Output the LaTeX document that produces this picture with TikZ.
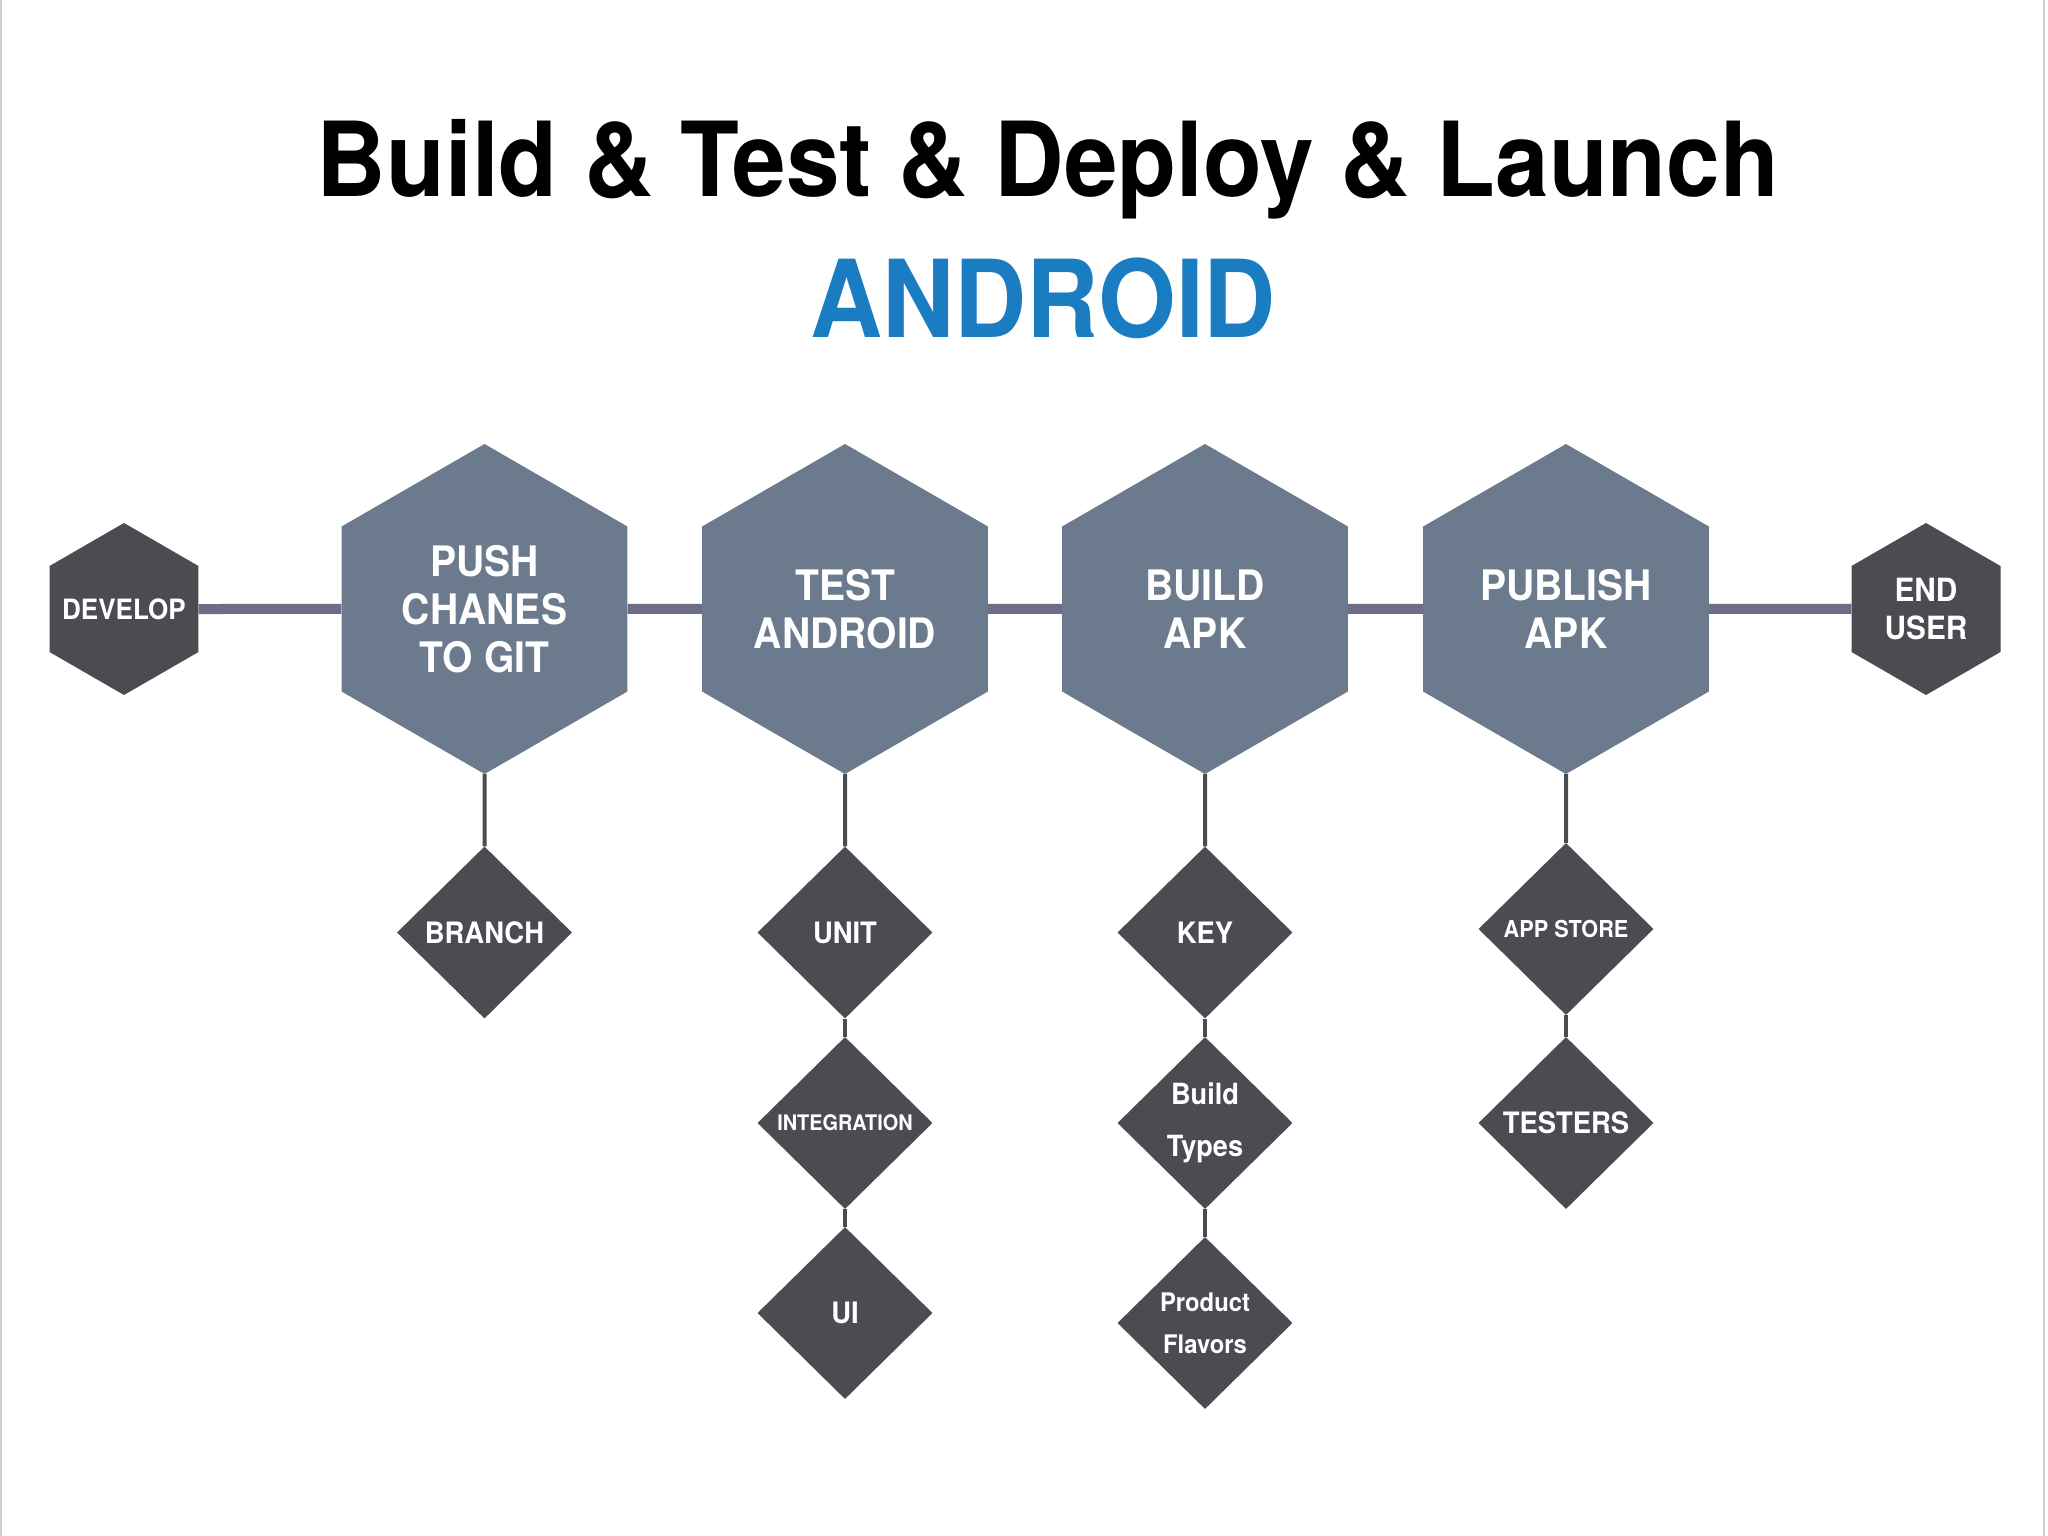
\documentclass[tikz,border=0pt]{standalone}
\usepackage{fontspec}
\setmainfont{TeX Gyre Heros}[FakeStretch=0.93]
\usetikzlibrary{shapes.geometric,backgrounds}
\definecolor{slate}{HTML}{6B7A8C}
\definecolor{darkgrey}{HTML}{4A4C52}
\definecolor{linepurple}{HTML}{6B6E86}
\definecolor{andblue}{HTML}{1A7CC1}
\definecolor{framegrey}{HTML}{CFCFCF}
\begin{document}
\begin{tikzpicture}[x=1pt,y=-1pt,
  hexbig/.style={regular polygon, regular polygon sides=6, shape border rotate=30,
    fill=slate, minimum size=330pt, inner sep=0pt, text=white, align=center,
    font=\bfseries\fontsize{42}{48}\selectfont},
  hexsmall/.style={regular polygon, regular polygon sides=6, shape border rotate=30,
    fill=darkgrey, minimum size=172pt, inner sep=0pt, text=white, align=center},
  dia/.style={diamond, fill=darkgrey, minimum width=175pt, minimum height=172pt,
    inner sep=0pt, text=white, align=center, font=\bfseries\fontsize{29.5}{34}\selectfont},
  mainline/.style={draw=linepurple, line width=10pt},
  subline/.style={draw=darkgrey, line width=4pt}]
\useasboundingbox (0,0) rectangle (2048,1536);

% titles
\node[anchor=base, inner sep=0pt, font=\bfseries\fontsize{103.5}{110}\selectfont] (title) at (1048,196) {Build \& Test \& Deploy \& Launch};
\node[anchor=base, inner sep=0pt, text=andblue, font=\bfseries\fontsize{107.5}{110}\selectfont] (android) at (1043,337) {ANDROID};

% main row
\node[hexsmall, font=\bfseries\fontsize{28}{34}\selectfont] (develop) at (124,609) {\makebox[0pt]{DEVELOP}};
\node[hexbig] (push) at (484.5,609) {PUSH\\CHANES\\TO GIT};
\node[hexbig] (test) at (845,609) {TEST\\ANDROID};
\node[hexbig] (build) at (1205,609) {BUILD\\APK};
\node[hexbig] (publish) at (1566,609) {PUBLISH\\APK};
\node[hexsmall, font=\bfseries\fontsize{32}{38}\selectfont] (enduser) at (1926,609) {END\\USER};

% sub items
\node[dia] (branch) at (484.5,932.5) {BRANCH};
\node[dia] (unit) at (845,932.5) {UNIT};
\node[dia, font=\bfseries\fontsize{21.4}{26}\selectfont] (integration) at (845,1123) {INTEGRATION};
\node[dia] (ui) at (845,1313) {UI};
\node[dia] (key) at (1205,932.5) {KEY};
\node[dia, font=\bfseries\fontsize{29.2}{52}\selectfont] (buildtypes) at (1205,1123) {Build\\Types};
\node[dia, font=\bfseries\fontsize{25.6}{42}\selectfont] (flavors) at (1205,1323) {Product\\Flavors};
\node[dia, font=\bfseries\fontsize{23.3}{28}\selectfont] (appstore) at (1566,929) {APP STORE};
\node[dia] (testers) at (1566,1123) {TESTERS};

\begin{scope}[on background layer]
  \fill[white] (0,0) rectangle (2048,1536);
  \draw[framegrey, line width=2pt] (1,0) -- (1,1536);
  \draw[framegrey, line width=2pt] (2044,0) -- (2044,1536);
  \draw[mainline] (develop) -- (push);
  \draw[mainline] (push) -- (test);
  \draw[mainline] (test) -- (build);
  \draw[mainline] (build) -- (publish);
  \draw[mainline] (publish) -- (enduser);
  \draw[subline] (push) -- (branch);
  \draw[subline] (test) -- (unit);
  \draw[subline] (unit) -- (integration);
  \draw[subline] (integration) -- (ui);
  \draw[subline] (build) -- (key);
  \draw[subline] (key) -- (buildtypes);
  \draw[subline] (buildtypes) -- (flavors);
  \draw[subline] (publish) -- (appstore);
  \draw[subline] (appstore) -- (testers);
\end{scope}
\end{tikzpicture}
\end{document}
